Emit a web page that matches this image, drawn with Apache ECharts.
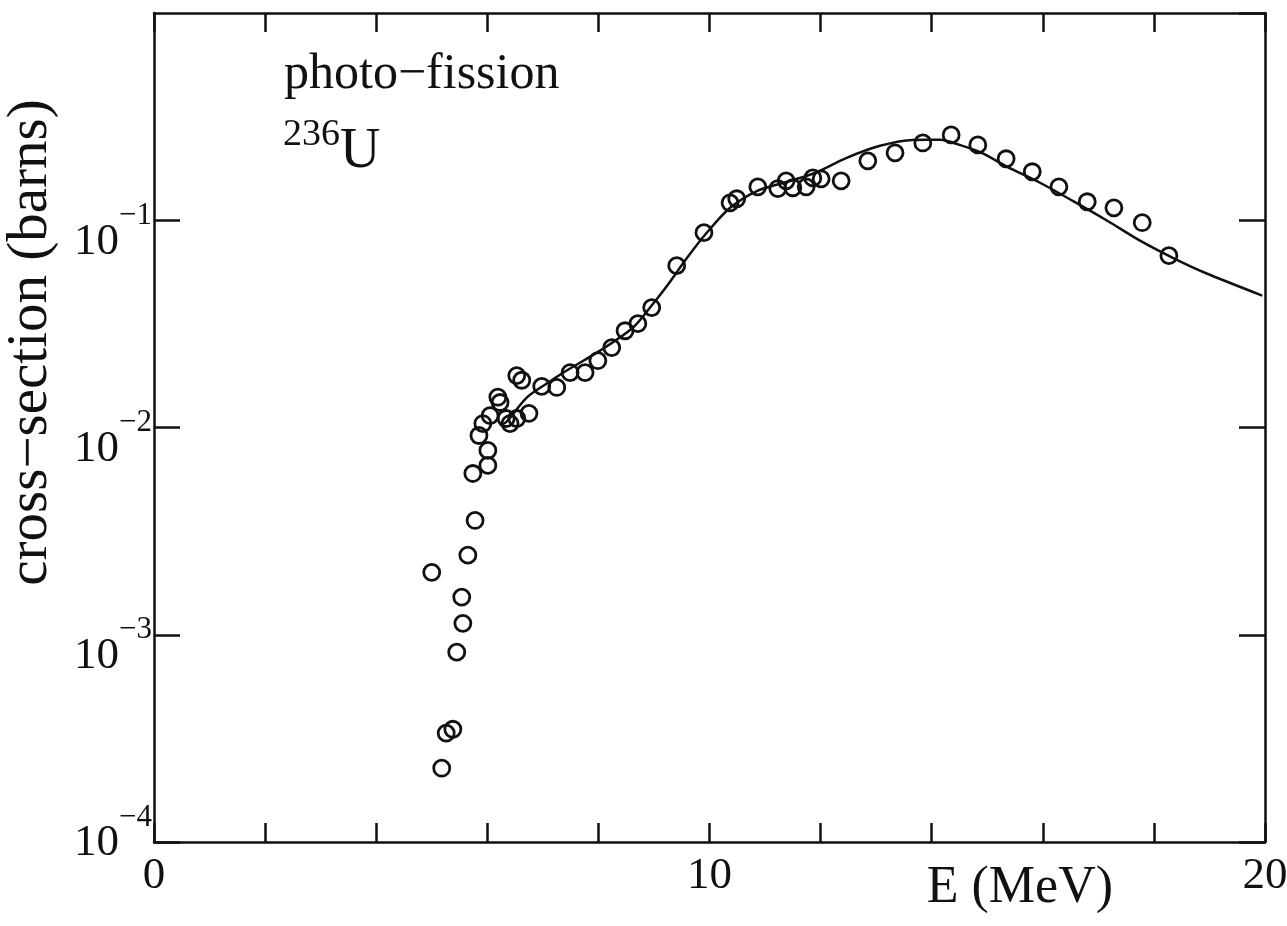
<!DOCTYPE html>
<html>
<head>
<meta charset="utf-8">
<script src="https://cdn.jsdelivr.net/npm/echarts@6/dist/echarts.min.js"></script>
<style>
  html, body { margin: 0; padding: 0; background: #fff; }
  #chart { width: 1287px; height: 926px; }
</style>
</head>
<body>
<div id="chart"></div>
<script>
// measured points: energy (MeV), cross-section (barns)
const dataE = [5.00, 5.18, 5.26, 5.38, 5.45, 5.56, 5.54, 5.65, 5.78, 5.74,
  6.01, 6.01, 5.85, 5.92, 6.05, 6.19, 6.23, 6.34, 6.41, 6.53,
  6.53, 6.62, 6.75, 6.98, 7.25, 7.49, 7.76, 7.99, 8.24, 8.48,
  8.71, 8.96, 9.41, 9.90, 10.37, 10.49, 10.87, 11.23, 11.38, 11.50,
  11.74, 11.86, 12.01, 12.37, 12.85, 13.34, 13.84, 14.35, 14.83, 15.34,
  15.81, 16.29, 16.80, 17.28, 17.79, 18.27];
const dataSigma = [2.0e-3, 2.27e-4, 3.35e-4, 3.5e-4, 8.24e-4, 1.135e-3, 1.52e-3, 2.42e-3, 3.56e-3, 6.0e-3,
  6.56e-3, 7.75e-3, 9.15e-3, 1.045e-2, 1.14e-2, 1.40e-2, 1.32e-2, 1.105e-2, 1.045e-2, 1.105e-2,
  1.78e-2, 1.69e-2, 1.17e-2, 1.58e-2, 1.56e-2, 1.84e-2, 1.84e-2, 2.10e-2, 2.43e-2, 2.93e-2,
  3.17e-2, 3.79e-2, 6.04e-2, 8.71e-2, 0.1214, 0.127, 0.145, 0.142, 0.155, 0.1435,
  0.145, 0.160, 0.1585, 0.155, 0.1935, 0.2115, 0.236, 0.258, 0.231, 0.198,
  0.1714, 0.145, 0.1228, 0.1148, 0.0973, 0.0675];

// calculated curve
const curveE = [6.23, 6.35, 6.71, 7.07, 7.43, 8.03, 8.62, 8.93, 9.23, 9.59,
  9.92, 10.37, 10.86, 11.27, 11.86, 12.47, 13.07, 13.66, 14.15, 14.5,
  14.9, 15.36, 15.95, 16.54, 17.16, 17.75, 18.34, 18.96, 19.95];
const curveSigma = [0.01023, 0.01069, 0.01395, 0.0163, 0.01883, 0.0235, 0.0303, 0.0379, 0.0480, 0.0655,
  0.0851, 0.1148, 0.1387, 0.150, 0.1676, 0.200, 0.2286, 0.2440, 0.2443, 0.231,
  0.2115, 0.181, 0.1517, 0.124, 0.0995, 0.0797, 0.0659, 0.0552, 0.0433];

const xLabels = [0, 10, 20];

const serif = '"Liberation Serif", "DejaVu Serif", serif';
const ink = '#111';

const chart = echarts.init(document.getElementById('chart'));

const frameLine = { onZero: false, lineStyle: { color: ink, width: 2.5 } };

const option = {
  backgroundColor: '#fff',
  animation: false,
  grid: { left: 154, right: 22, top: 13, bottom: 84, outerBoundsMode: 'none' },
  xAxis: [
    {
      type: 'value', min: 0, max: 20, interval: 2,
      name: 'E (MeV)',
      nameLocation: 'end',
      nameGap: -152,
      nameTextStyle: { fontFamily: serif, fontSize: 52, color: ink, align: 'right', verticalAlign: 'top', padding: [20, 0, 0, 0] },
      axisLine: frameLine,
      axisTick: { inside: true, length: 19, lineStyle: { color: ink, width: 2.5 } },
      axisLabel: {
        fontFamily: serif, fontSize: 45, color: ink, margin: 12,
        formatter: v => (xLabels.indexOf(v) >= 0 ? String(v) : '')
      },
      splitLine: { show: false }
    },
    {
      type: 'value', min: 0, max: 20, interval: 2, position: 'top',
      axisLine: frameLine,
      axisTick: { inside: true, length: 19, lineStyle: { color: ink, width: 2.5 } },
      axisLabel: { show: false },
      splitLine: { show: false }
    }
  ],
  yAxis: [
    {
      type: 'log', logBase: 10, min: 1e-4, max: 1,
      name: 'cross\u2212section (barns)',
      nameLocation: 'middle',
      nameGap: 94,
      nameTextStyle: { fontFamily: serif, fontSize: 57, color: ink, padding: [0, 0, 0, 170] },
      axisLine: frameLine,
      axisTick: { inside: true, length: 26, lineStyle: { color: ink, width: 2.5 } },
      axisLabel: {
        showMaxLabel: false,
        margin: 2,
        padding: [24, 0, 0, 0],
        formatter: v => {
          const e = Math.round(Math.log10(v));
          // the lowest label sits a little higher in the original
          if (e === -4) return '{b4|10}{s4|\u2212' + (-e) + '}';
          return '{b|10}{s|\u2212' + (-e) + '}';
        },
        rich: {
          b: { fontFamily: serif, fontSize: 45, color: ink, lineHeight: 45, verticalAlign: 'bottom' },
          s: { fontFamily: serif, fontSize: 31, color: ink, lineHeight: 64, verticalAlign: 'top' },
          b4: { fontFamily: serif, fontSize: 45, color: ink, lineHeight: 45, verticalAlign: 'bottom', padding: [0, 0, 40, 0] },
          s4: { fontFamily: serif, fontSize: 31, color: ink, lineHeight: 104, verticalAlign: 'top' }
        }
      },
      splitLine: { show: false }
    },
    {
      type: 'log', logBase: 10, min: 1e-4, max: 1, position: 'right',
      axisLine: frameLine,
      axisTick: { inside: true, length: 26, lineStyle: { color: ink, width: 2.5 } },
      axisLabel: { show: false },
      splitLine: { show: false }
    }
  ],
  graphic: [
    {
      type: 'text', left: 284, top: 50,
      style: { text: 'photo\u2212fission', fontFamily: serif, fontSize: 50, fill: ink }
    },
    {
      type: 'text', left: 283, top: 116,
      style: {
        text: '{s|236}{u|U}',
        rich: {
          s: { fontFamily: serif, fontSize: 38, fill: ink, lineHeight: 64, verticalAlign: 'top' },
          u: { fontFamily: serif, fontSize: 56, fill: ink, lineHeight: 56, verticalAlign: 'bottom' }
        }
      }
    }
  ],
  series: [
    {
      type: 'line',
      data: curveE.map((e, i) => [e, curveSigma[i]]),
      smooth: 0.3,
      showSymbol: false,
      lineStyle: { color: ink, width: 2.5 },
      z: 2
    },
    {
      type: 'scatter',
      data: dataE.map((e, i) => [e, dataSigma[i]]),
      symbol: 'circle',
      symbolSize: 16,
      itemStyle: { color: 'rgba(0,0,0,0)', borderColor: ink, borderWidth: 2.8, opacity: 1 },
      z: 3
    }
  ]
};

chart.setOption(option);
</script>
</body>
</html>
